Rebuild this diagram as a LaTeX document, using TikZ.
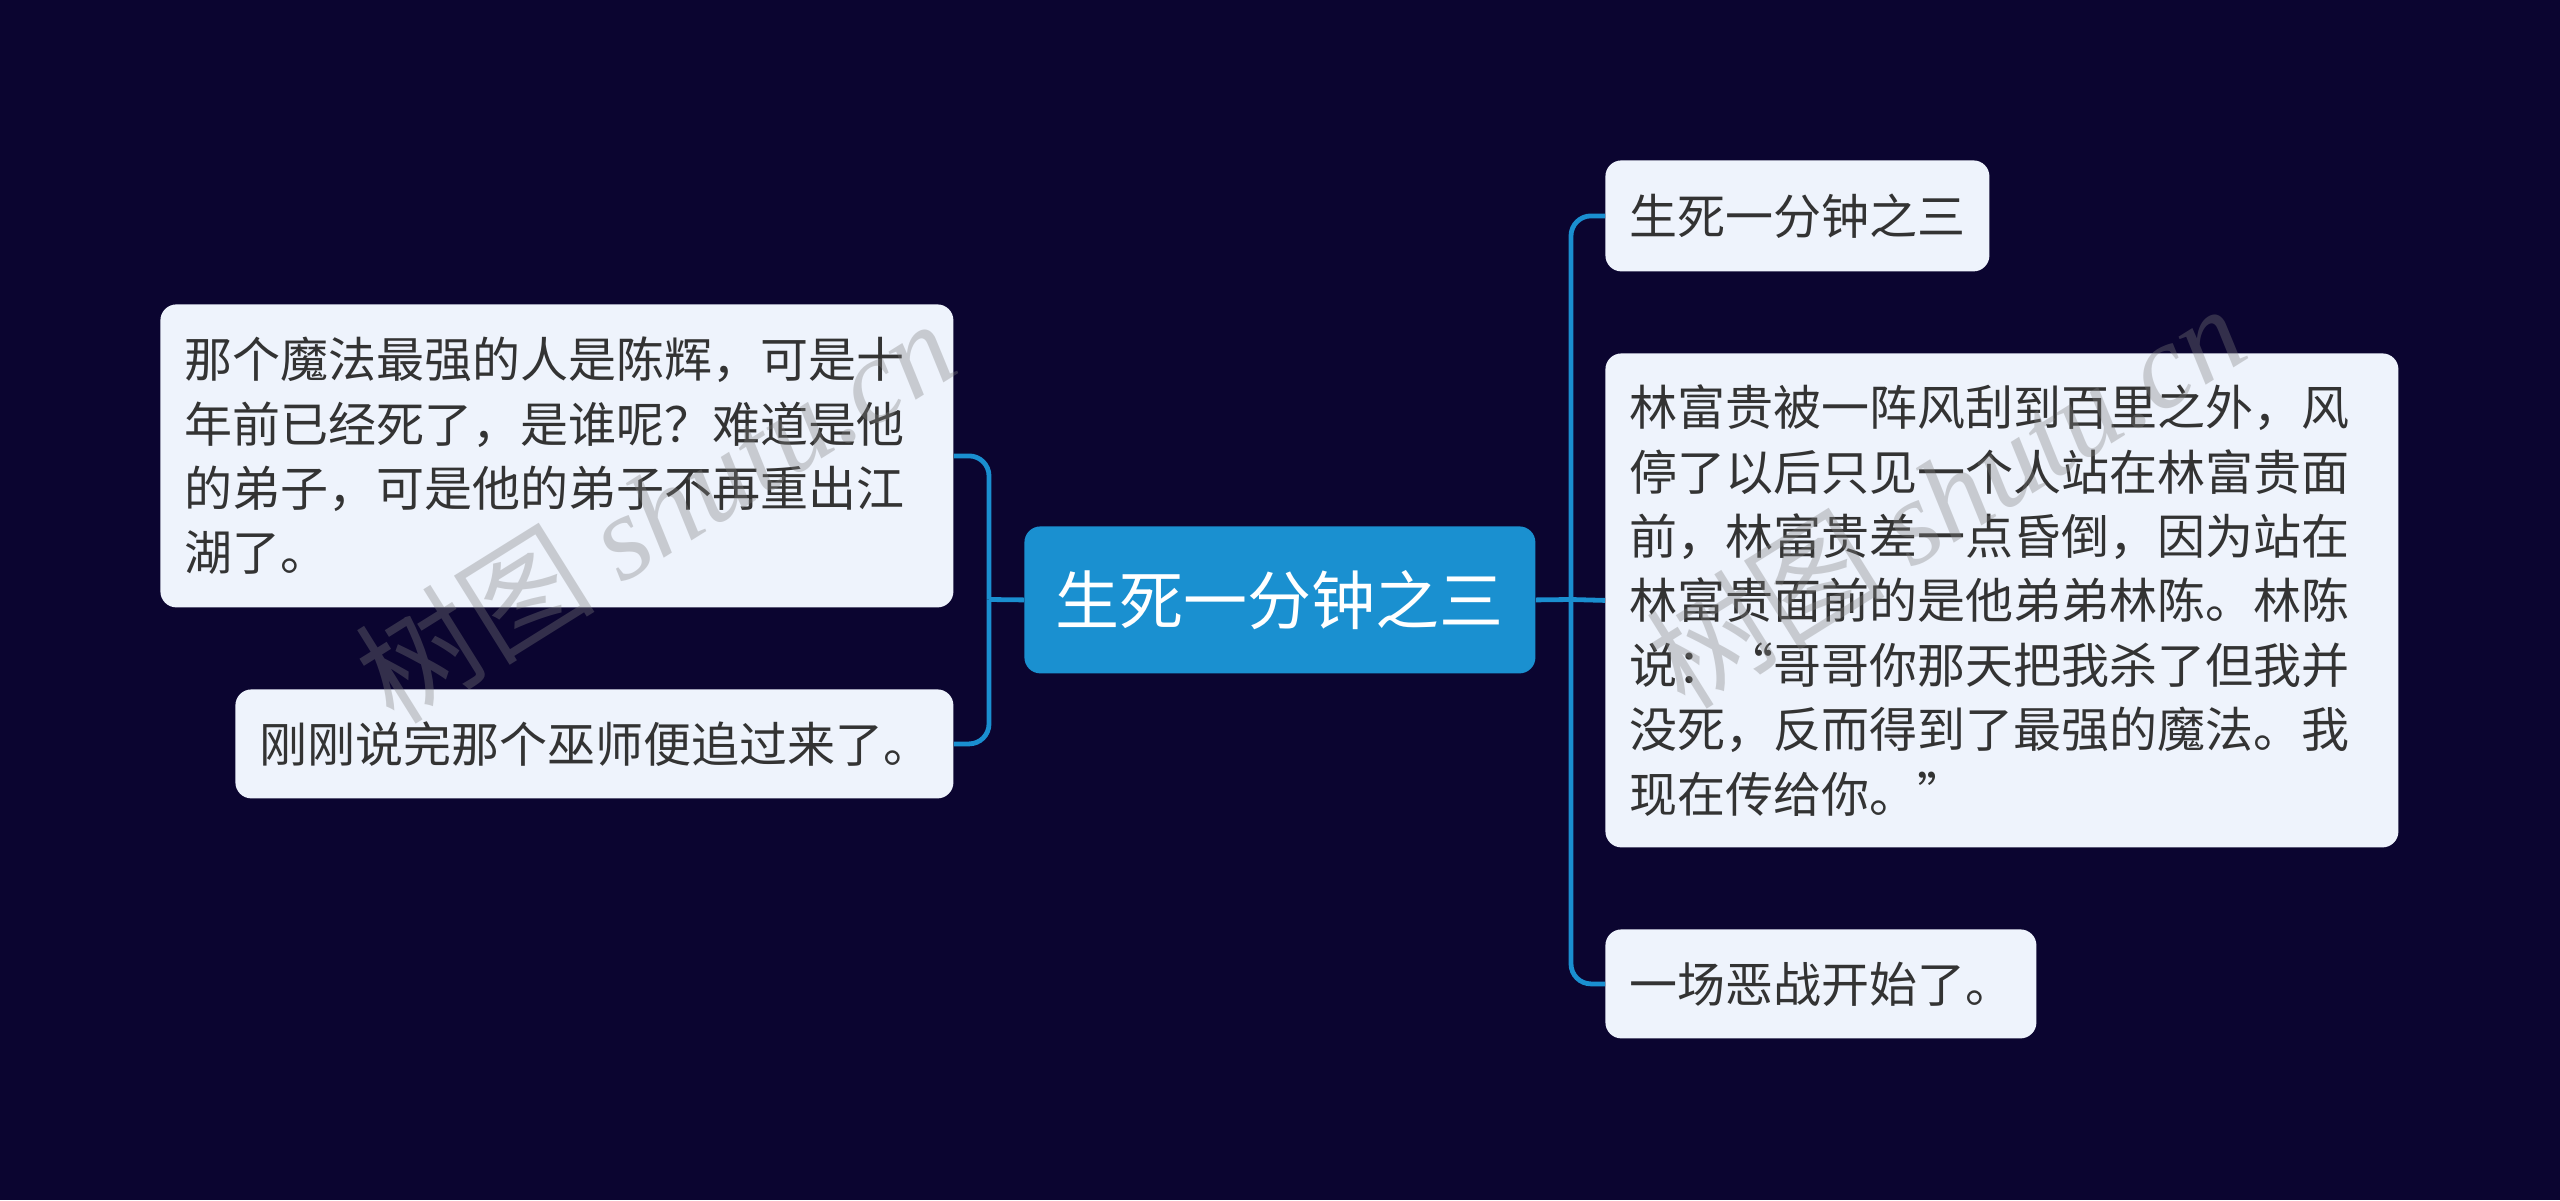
\documentclass[tikz,border=0pt]{standalone}
\usepackage{fontspec}
\setmainfont{Noto Sans CJK SC}
\newfontfamily\wmlatin{Liberation Serif}
\definecolor{bgc}{HTML}{0B0530}
\definecolor{mainc}{HTML}{1A90D0}
\definecolor{leafc}{HTML}{EEF3FC}
\definecolor{txtc}{HTML}{333333}
\definecolor{linec}{HTML}{1A8FD0}
\tikzset{
  leaf/.style={fill=leafc, rounded corners=8pt, inner xsep=12pt, inner ysep=0pt, align=left, anchor=north west,
    text=txtc, font=\fontsize{24pt}{32.2pt}\selectfont},
  mainnode/.style={fill=mainc, rounded corners=8pt, inner sep=0pt, align=center, anchor=north west,
    text=white, font=\fontsize{32pt}{38pt}\selectfont},
  conn/.style={draw=linec, line width=2.4pt},
  wm/.style={text=gray, opacity=0.35, font=\fontsize{60pt}{66pt}\selectfont, rotate=32}
}
\begin{document}
\begin{tikzpicture}[x=0.5pt,y=-0.5pt]
\fill[bgc] (0,0) rectangle (2560,1200);
\useasboundingbox (0,0) rectangle (2560,1200);

\node[mainnode, minimum width=255.5pt, minimum height=73.5pt] (c) at (1024,526) {生死一分钟之三};

\node[leaf, text width=372.5pt, minimum height=151.5pt] (l1) at (160,304)
  {那个魔法最强的人是陈辉，可是十\\年前已经死了，是谁呢？难道是他\\的弟子，可是他的弟子不再重出江\\湖了。};
\node[leaf, text width=335pt, minimum height=54.5pt] (l2) at (235,689)
  {刚刚说完那个巫师便追过来了。};

\node[leaf, text width=168pt, minimum height=55.5pt] (r1) at (1605,160)
  {生死一分钟之三};
\node[leaf, text width=372.5pt, minimum height=247pt] (r2) at (1605,353)
  {林富贵被一阵风刮到百里之外，风\\停了以后只见一个人站在林富贵面\\前，林富贵差一点昏倒，因为站在\\林富贵面前的是他弟弟林陈。林陈\\说：“哥哥你那天把我杀了但我并\\没死，反而得到了最强的魔法。我\\现在传给你。”};
\node[leaf, text width=191.5pt, minimum height=54.5pt] (r3) at (1605,929)
  {一场恶战开始了。};

\coordinate (jl) at (989,599.5);
\coordinate (jr) at (1571,599.5);
\draw[conn] (c.west) -- (jl);
\draw[conn, rounded corners=10pt] (jl) |- (l1.east);
\draw[conn, rounded corners=10pt] (jl) |- (l2.east);
\draw[conn] (c.east) -- (jr);
\draw[conn, rounded corners=10pt] (jr) |- (r1.west);
\draw[conn] (jr) -- (r2.west);
\draw[conn, rounded corners=10pt] (jr) |- (r3.west);

\node[wm] (w1) at (655,510) {树图 {\wmlatin\itshape shutu.cn}};
\node[wm] (w2) at (1945,495) {树图 {\wmlatin\itshape shutu.cn}};
\end{tikzpicture}
\end{document}
